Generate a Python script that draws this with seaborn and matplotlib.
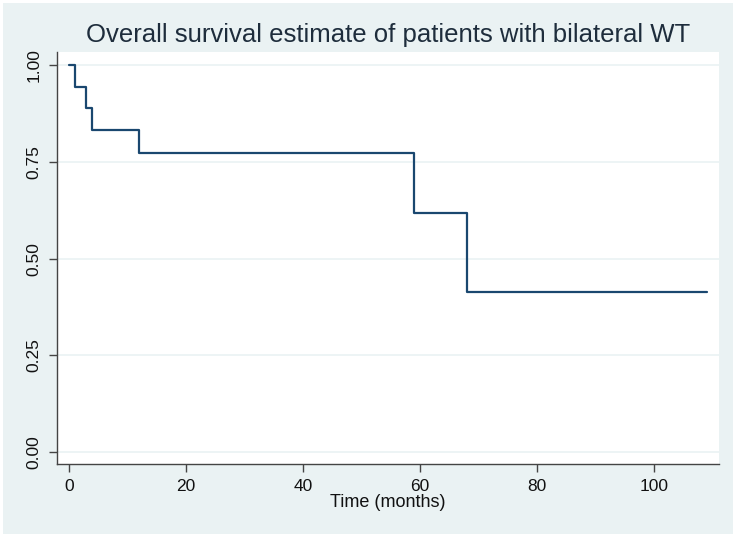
import pandas as pd
import matplotlib.pyplot as plt
from matplotlib.patches import Rectangle
import seaborn as sns

# Kaplan-Meier step values
time_months = [0, 1, 3, 4, 12, 59, 68, 109]
survival = [1.0, 0.944, 0.889, 0.833, 0.774, 0.619, 0.413, 0.413]
y_ticks = [0.0, 0.25, 0.5, 0.75, 1.0]
y_tick_labels = ["0.00", "0.25", "0.50", "0.75", "1.00"]
x_ticks = [0, 20, 40, 60, 80, 100]

sns.set_theme(style="white")
plt.rcParams['font.family'] = ['Liberation Sans', 'DejaVu Sans']

bg = '#eaf2f3'
navy = '#1a476f'

fig = plt.figure(figsize=(7.36, 5.37), dpi=100, facecolor='white')
fig.patches.append(Rectangle((3 / 736, 3 / 537), 1 - 6 / 736, 1 - 6 / 537,
                             transform=fig.transFigure, facecolor=bg,
                             edgecolor='none', zorder=-1))
ax = fig.add_axes([57 / 736, 73 / 537, 662 / 736, 412 / 537])
ax.set_facecolor('white')

df = pd.DataFrame({'time': time_months, 'surv': survival})
sns.lineplot(data=df, x='time', y='surv', drawstyle='steps-post',
             estimator=None, color=navy, linewidth=1.6, ax=ax)

ax.set_xlim(-2, 111.1)
ax.set_ylim(-0.031, 1.034)
ax.set_yticks(y_ticks)
ax.set_yticklabels(y_tick_labels, rotation=90, va='center')
ax.set_xticks(x_ticks)
for y in y_ticks:
    ax.axhline(y, color=bg, linewidth=1.2, zorder=0)

sns.despine(ax=ax)
for s in ['left', 'bottom']:
    ax.spines[s].set_color('#444444')
    ax.spines[s].set_linewidth(1.0)
ax.tick_params(axis='both', direction='out', length=6, width=1,
               color='#444444', labelsize=12.5, labelcolor='#111111',
               bottom=True, left=True, pad=5)

ax.set_xlabel('Time (months)', fontsize=13, color='#111111', labelpad=0)
ax.set_ylabel('')
ax.set_title('Overall survival estimate of patients with bilateral WT',
             fontsize=18.5, color='#1e2d3c', pad=7)

fig.savefig('out.png', dpi=100, facecolor=fig.get_facecolor())
